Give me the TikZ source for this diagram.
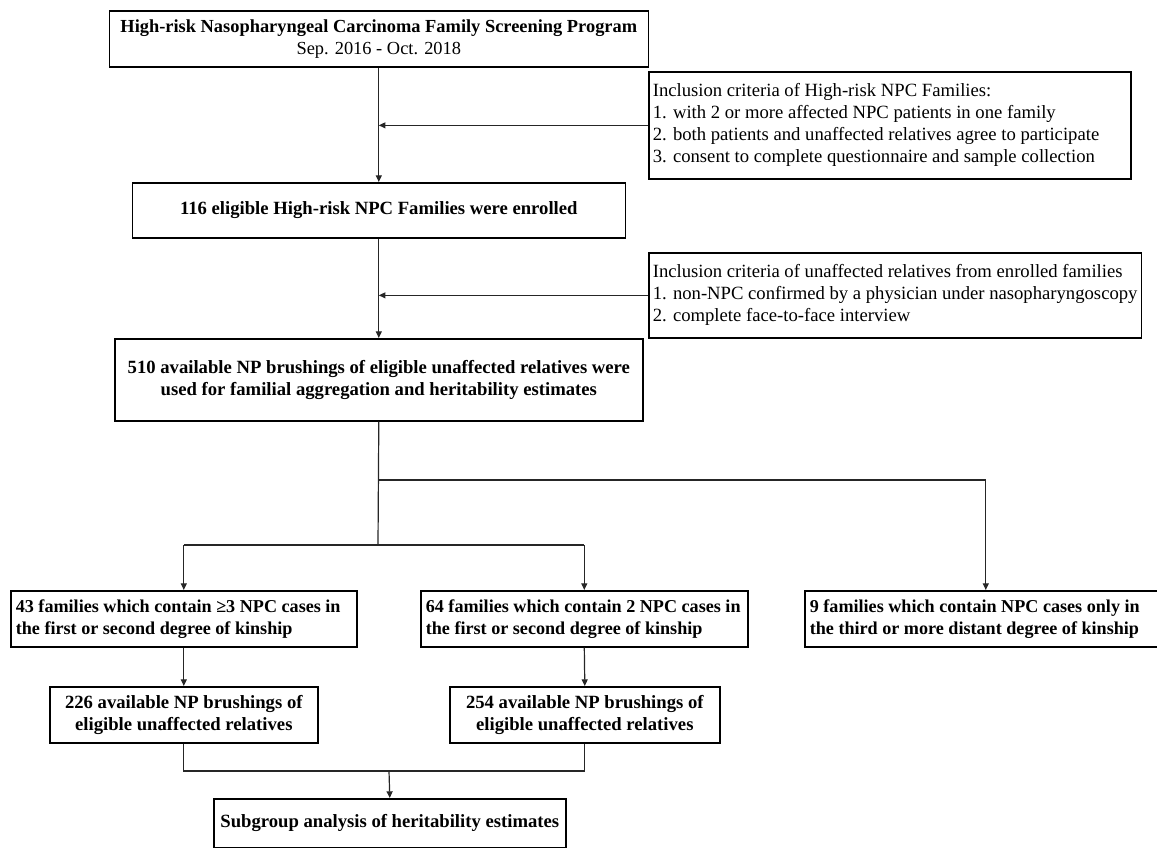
\documentclass[tikz,border=0pt]{standalone}
\usepackage{fontspec}
\setmainfont{Liberation Serif}
\usetikzlibrary{arrows.meta}

\tikzset{
  box/.style={draw, line width=1.2pt, inner sep=0pt, anchor=north west, align=center, font=\fontsize{14}{16.5}\selectfont\bfseries},
  wh/.style 2 args={minimum width=#1*0.75pt, minimum height=#2*0.75pt},
  fambox/.style={box, align=flush left, inner xsep=3.75pt, minimum height=42pt, font=\fontsize{13.6}{16.5}\selectfont\bfseries},
  critbox/.style={draw, line width=1.2pt, inner xsep=3pt, inner ysep=9pt, anchor=north west, align=flush left, font=\fontsize{14}{16.5}\selectfont},
  conn/.style={line width=0.9pt, draw=black!85},
  arr/.style={conn, -{Triangle[length=5pt,width=4.5pt]}}
}

\begin{document}
\begin{tikzpicture}[x=0.75pt,y=0.75pt,yscale=-1,xscale=1]
\useasboundingbox (0,0) rectangle (1157,848);

% Text Node
\draw (108.5,10) node [box, wh={539}{56}, font=\fontsize{13.8}{16.5}\selectfont\bfseries] (prog) {High-risk Nasopharyngeal Carcinoma Family Screening Program\\ {\mdseries Sep. 2016 - Oct. 2018}};
% Text Node
\draw (648,71) node [critbox, text width=355.5pt] (critA) {Inclusion criteria of High-risk NPC Families:\\1. with 2 or more affected NPC patients in one family\\2. both patients and unaffected relatives agree to participate\\3. consent to complete questionnaire and sample collection};
% Text Node
\draw (131.5,182) node [box, wh={493}{55}] (enrol) {116 eligible High-risk NPC Families were enrolled};
% Text Node
\draw (648,252) node [critbox] (critB) {Inclusion criteria of unaffected relatives from enrolled families\\1. non-NPC confirmed by a physician under nasopharyngoscopy\\2. complete face-to-face interview};
% Text Node
\draw (114,338) node [box, wh={528}{82}] (avail) {510 available NP brushings of eligible unaffected relatives were\\used for familial aggregation and heritability estimates};

% Text Node
\draw (10,590) node [fambox, text width=252pt] (famA) {43 families which contain ≥3 NPC cases in\\the first or second degree of kinship};
% Text Node
\draw (420,590) node [fambox, text width=237.75pt] (famB) {64 families which contain 2 NPC cases in\\the first or second degree of kinship};
% Text Node
\draw (804,590) node [fambox, text width=264pt] (famC) {9 families which contain NPC cases only in\\the third or more distant degree of kinship};

% Text Node
\draw (49,686) node [box, wh={268}{56}] (subA) {226 available NP brushings of\\eligible unaffected relatives};
% Text Node
\draw (449,686) node [box, wh={270}{56}] (subB) {254 available NP brushings of\\eligible unaffected relatives};
% Text Node
\draw (213,798) node [box, wh={352}{49}] (subF) {Subgroup analysis of heritability estimates};

% Branch points
\coordinate (rbar) at (378,480);
\coordinate (lbar) at (378,545);
\coordinate (join) at (389,771);

%Straight Lines
\draw [arr] (prog.south) -- (enrol.north);
\draw [arr] (critA.west) -- (critA.west -| prog.south);
\draw [arr] (enrol.south) -- (avail.north);
\draw [arr] (critB.west) -- (critB.west -| enrol.south);
\draw [conn] (avail.south) -- (lbar);
\draw [arr] (rbar) -| (famC.north);
\draw [conn] (famA.north |- lbar) -- (famB.north |- lbar);
\draw [arr] (famA.north |- lbar) -- (famA.north);
\draw [arr] (famB.north |- lbar) -- (famB.north);
\draw [arr] (famA.south) -- (subA.north);
\draw [arr] (famB.south) -- (subB.north);
\draw [conn] (subA.south) |- (join) -| (subB.south);
\draw [arr] (join) -- (subF.north);

\end{tikzpicture}
\end{document}
